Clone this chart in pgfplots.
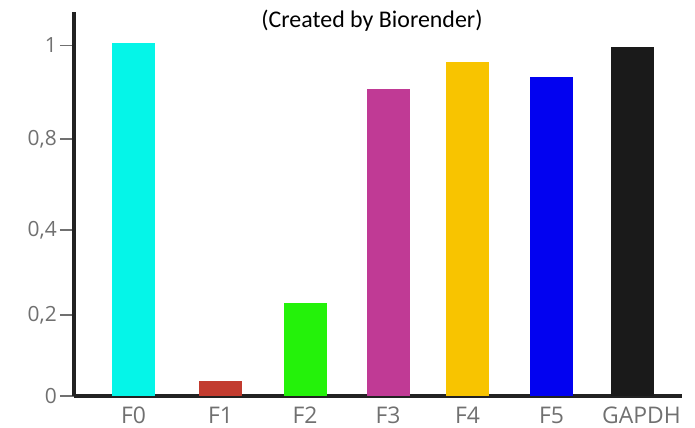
\documentclass[border=0pt]{standalone}
\usepackage{fontspec}
\setmainfont{Open Sans}
\newfontfamily\calfont{Carlito}
\usepackage{pgfplots}
\pgfplotsset{compat=1.18}
\definecolor{cF0}{HTML}{05F5E8}
\definecolor{cF1}{HTML}{C23B2F}
\definecolor{cF2}{HTML}{24F20A}
\definecolor{cF3}{HTML}{C03A95}
\definecolor{cF4}{HTML}{F8C400}
\definecolor{cF5}{HTML}{0202F0}
\definecolor{cG}{HTML}{1A1A1A}
\definecolor{axcol}{HTML}{222222}
\definecolor{lab}{HTML}{707070}
\begin{document}
\begin{tikzpicture}
\useasboundingbox (0,0) rectangle (695bp,428bp);
\begin{axis}[
  at={(74bp,32bp)}, anchor=south west,
  x=1bp, y=349bp,
  xmin=74, xmax=682, ymin=0, ymax=1.10,
  axis x line=bottom, axis y line=left,
  axis line style={-, line width=3.5bp, draw=axcol},
  xtick={133.5,220.5,305,388,467.5,551.5,632.5},
  xticklabels={F0,F1,F2,F3,F4,F5,\hspace*{18bp}GAPDH},
  xtick style={draw=none},
  ytick={0,0.232,0.476,0.736,1.005},
  yticklabels={0,{0,2},{0,4},{0,8},1},
  ytick style={draw=lab, line width=1.3bp},
  tick align=outside,
  major tick length=14bp,
  xticklabel style={font=\fontsize{23}{26}\selectfont, text=lab, anchor=north, inner sep=0pt, yshift=3bp},
  yticklabel style={font=\fontsize{21}{24}\selectfont, text=lab, anchor=east, inner sep=0pt, xshift=-3bp},
  clip=false,
]
\addplot[ybar, bar width=43bp, fill=cF0, draw=none] coordinates {(133.5,1.011)};
\addplot[ybar, bar width=43bp, fill=cF1, draw=none] coordinates {(220.5,0.043)};
\addplot[ybar, bar width=43bp, fill=cF2, draw=none] coordinates {(305,0.266)};
\addplot[ybar, bar width=43bp, fill=cF3, draw=none] coordinates {(388,0.880)};
\addplot[ybar, bar width=43bp, fill=cF4, draw=none] coordinates {(467.5,0.957)};
\addplot[ybar, bar width=43bp, fill=cF5, draw=none] coordinates {(551.5,0.914)};
\addplot[ybar, bar width=43bp, fill=cG, draw=none] coordinates {(632.5,1.000)};
\end{axis}
\node[font=\calfont\fontsize{24}{27}\selectfont, text=black] at (372bp,407bp) {(Created by Biorender)};
\end{tikzpicture}
\end{document}
